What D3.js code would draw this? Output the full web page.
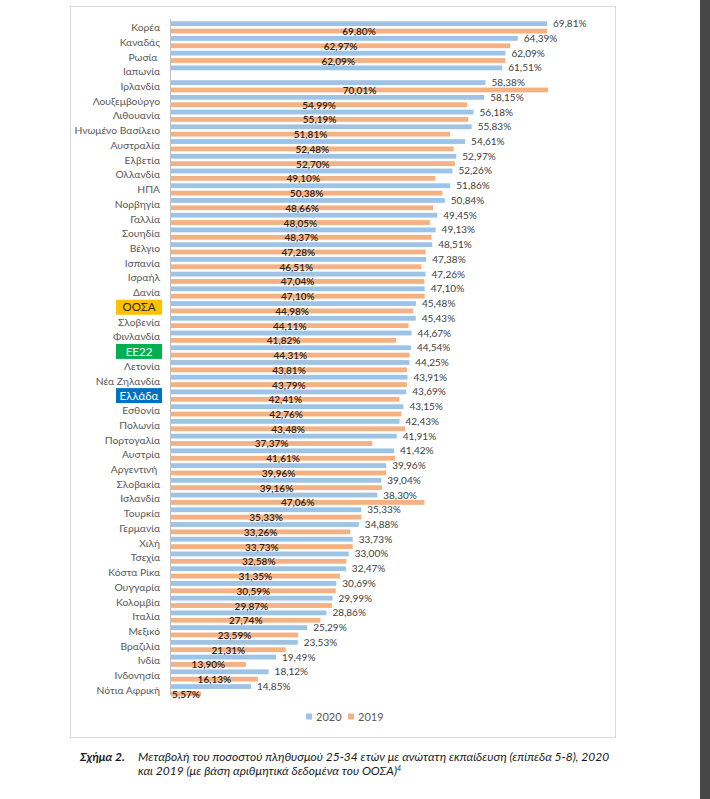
<!DOCTYPE html>
<html>
<head>
<meta charset="utf-8">
<script src="https://cdn.jsdelivr.net/npm/d3@7"></script>
<style>
  html, body { margin: 0; padding: 0; background: #ffffff; }
  svg { display: block; }
</style>
</head>
<body>
<svg id="chart" width="710" height="799"></svg>
<script>
const categories = ["Κορέα","Καναδάς","Ρωσία ","Ιαπωνία","Ιρλανδία","Λουξεμβούργο","Λιθουανία","Ηνωμένο Βασίλειο","Αυστραλία","Ελβετία","Ολλανδία","ΗΠΑ","Νορβηγία","Γαλλία","Σουηδία","Βέλγιο","Ισπανία","Ισραήλ","Δανία","ΟΟΣΑ","Σλοβενία","Φινλανδία","ΕΕ22","Λετονία","Νέα Ζηλανδία","Ελλάδα","Εσθονία","Πολωνία","Πορτογαλία","Αυστρία","Αργεντινή ","Σλοβακία","Ισλανδία","Τουρκία","Γερμανία","Χιλή","Τσεχία","Κόστα Ρίκα","Ουγγαρία","Κολομβία","Ιταλία","Μεξικό","Βραζιλία","Ινδία","Ινδονησία","Νότια Αφρική"];
const values2020 = [69.81,64.39,62.09,61.51,58.38,58.15,56.18,55.83,54.61,52.97,52.26,51.86,50.84,49.45,49.13,48.51,47.38,47.26,47.10,45.48,45.43,44.67,44.54,44.25,43.91,43.69,43.15,42.43,41.91,41.42,39.96,39.04,38.30,35.33,34.88,33.73,33.00,32.47,30.69,29.99,28.86,25.29,23.53,19.49,18.12,14.85];
const values2019 = [69.80,62.97,62.09,null,70.01,54.99,55.19,51.81,52.48,52.70,49.10,50.38,48.66,48.05,48.37,47.28,46.51,47.04,47.10,44.98,44.11,41.82,44.31,43.81,43.79,42.41,42.76,43.48,37.37,41.61,39.96,39.16,47.06,35.33,33.26,33.73,32.58,31.35,30.59,29.87,27.74,23.59,21.31,13.90,16.13,5.57];
const seriesNames = ["2020","2019"];
const highlighted = {"ΟΟΣΑ": {fill: "#FFC000", text: "#262626"}, "ΕΕ22": {fill: "#00B050", text: "#ffffff"}, "Ελλάδα": {fill: "#0070C0", text: "#ffffff"}};
const colors = {"2020": "#9DC3E6", "2019": "#F4B183"};
const captionLabel = "Σχήμα 2.";
const captionLines = ["Μεταβολή του ποσοστού πληθυσμού 25-34 ετών με ανώτατη εκπαίδευση (επίπεδα 5-8), 2020", "και 2019 (με βάση αριθμητικά δεδομένα του ΟΟΣΑ)"];

const svg = d3.select("#chart");
const font = "Lato, 'Open Sans', sans-serif";
const fmt = v => v.toFixed(2).replace(".", ",") + "%";

svg.append("rect").attr("x", 700).attr("y", 0).attr("width", 10).attr("height", 799).attr("fill", "#474747");

svg.append("rect").attr("x", 70.5).attr("y", 6.5).attr("width", 545).attr("height", 731)
  .attr("fill", "#fff").attr("stroke", "#d9d9d9").attr("stroke-width", 1);

const x = d3.scaleLinear().domain([0, 70]).range([171, 548]);
const y = d3.scaleBand().domain(categories).range([20, 20 + 46 * 14.73]).paddingInner(0).paddingOuter(0);
const y1 = d3.scaleBand().domain(seriesNames).range([0, y.bandwidth()]).paddingInner(0.35).paddingOuter(0.175);

const data = categories.map((c, i) => ({cat: c, v2020: values2020[i], v2019: values2019[i]}));

const g = svg.append("g");

g.selectAll("rect.b20").data(data).join("rect")
  .attr("x", x(0)).attr("y", d => y(d.cat) + y1("2020"))
  .attr("width", d => x(d.v2020) - x(0)).attr("height", y1.bandwidth())
  .attr("fill", colors["2020"]);

g.selectAll("rect.b19").data(data.filter(d => d.v2019 != null)).join("rect")
  .attr("x", x(0)).attr("y", d => y(d.cat) + y1("2019"))
  .attr("width", d => x(d.v2019) - x(0)).attr("height", y1.bandwidth())
  .attr("fill", colors["2019"]);

svg.append("line").attr("x1", 170.5).attr("x2", 170.5).attr("y1", 19).attr("y2", 695)
  .attr("stroke", "#bfbfbf").attr("stroke-width", 1);

g.selectAll("text.l20").data(data).join("text")
  .attr("x", d => x(d.v2020) + 6).attr("y", d => y(d.cat) + y1("2020") + y1.bandwidth() / 2)
  .attr("dy", "0.35em").attr("font-family", font).attr("font-size", 10).attr("fill", "#404040")
  .text(d => fmt(d.v2020));

g.selectAll("text.l19").data(data.filter(d => d.v2019 != null)).join("text")
  .attr("x", d => (x(0) + x(d.v2019)) / 2).attr("y", d => y(d.cat) + y1("2019") + y1.bandwidth() / 2)
  .attr("dy", "0.4em").attr("text-anchor", "middle").attr("font-family", font).attr("font-size", 10)
  .attr("font-weight", 600).attr("fill", "#2b2116")
  .text(d => fmt(d.v2019));

const catG = svg.append("g");
data.forEach(d => {
  const cy = y(d.cat) + y.bandwidth() / 2;
  const h = highlighted[d.cat];
  if (h) {
    catG.append("rect").attr("x", 116).attr("y", cy - 7.5).attr("width", 46).attr("height", 15).attr("fill", h.fill);
    catG.append("text").attr("x", 139).attr("y", cy).attr("dy", "0.36em").attr("text-anchor", "middle")
      .attr("font-family", font).attr("font-size", 11.5).attr("fill", h.text).text(d.cat);
  } else {
    catG.append("text").attr("x", 160).attr("y", cy).attr("dy", "0.36em").attr("text-anchor", "end")
      .attr("font-family", font).attr("font-size", 10.3).attr("fill", "#595959")
      .attr("xml:space", "preserve").text(d.cat);
  }
});

const leg = svg.append("g").attr("transform", "translate(306,717)");
const legItems = [{n: "2020", x: 0}, {n: "2019", x: 42}];
legItems.forEach(it => {
  leg.append("rect").attr("x", it.x).attr("y", -3.5).attr("width", 6).attr("height", 6).attr("fill", colors[it.n]);
  leg.append("text").attr("x", it.x + 10).attr("y", 0).attr("dy", "0.35em").attr("font-family", font)
    .attr("font-size", 11).attr("fill", "#595959").text(it.n);
});

svg.append("text").attr("x", 80).attr("y", 761).attr("font-family", "Lato, sans-serif")
  .attr("font-size", 12).attr("font-weight", "bold").attr("font-style", "italic").attr("fill", "#1a1a1a")
  .text(captionLabel);
const cap = svg.append("text").attr("font-family", "Lato, sans-serif").attr("font-size", 12)
  .attr("font-style", "italic").attr("fill", "#1a1a1a");
cap.append("tspan").attr("x", 138).attr("y", 761).text(captionLines[0]);
cap.append("tspan").attr("x", 138).attr("y", 775).text(captionLines[1]);
cap.append("tspan").attr("dy", -4).attr("font-size", 7).text("4");
</script>
</body>
</html>
